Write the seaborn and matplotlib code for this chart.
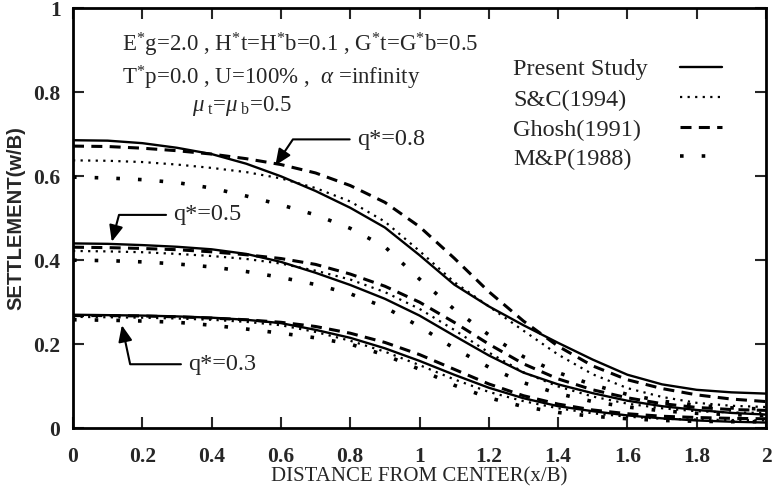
import numpy as np
import pandas as pd
import seaborn as sns
import matplotlib
matplotlib.use("Agg")
import matplotlib.pyplot as plt
from matplotlib.lines import Line2D

# ---------------- data ----------------
x_pts = [0.0, 0.1, 0.2, 0.3, 0.4, 0.5, 0.6, 0.7, 0.8, 0.9, 1.0,
         1.1, 1.2, 1.3, 1.4, 1.5, 1.6, 1.7, 1.8, 1.9, 2.0]

present_08 = [0.686, 0.685, 0.679, 0.668, 0.653, 0.630, 0.600, 0.565, 0.525, 0.478, 0.412,
              0.342, 0.290, 0.245, 0.203, 0.163, 0.127, 0.104, 0.091, 0.085, 0.082]
ghosh_08 = [0.672, 0.671, 0.667, 0.661, 0.653, 0.642, 0.628, 0.608, 0.578, 0.538, 0.480,
            0.405, 0.325, 0.255, 0.195, 0.148, 0.115, 0.094, 0.079, 0.069, 0.063]
sc_08 = [0.638, 0.637, 0.634, 0.628, 0.620, 0.610, 0.595, 0.572, 0.540, 0.492, 0.422,
         0.348, 0.290, 0.232, 0.175, 0.128, 0.095, 0.074, 0.060, 0.053, 0.050]
mp_08 = [0.598, 0.596, 0.592, 0.585, 0.572, 0.553, 0.532, 0.508, 0.476, 0.432, 0.355,
         0.283, 0.222, 0.170, 0.132, 0.103, 0.080, 0.064, 0.054, 0.048, 0.045]

present_05 = [0.440, 0.439, 0.436, 0.432, 0.426, 0.415, 0.396, 0.370, 0.341, 0.308, 0.268,
              0.220, 0.173, 0.132, 0.104, 0.083, 0.065, 0.052, 0.043, 0.036, 0.032]
ghosh_05 = [0.431, 0.430, 0.428, 0.425, 0.420, 0.413, 0.404, 0.390, 0.367, 0.338, 0.300,
            0.252, 0.200, 0.153, 0.117, 0.091, 0.072, 0.058, 0.049, 0.044, 0.042]
sc_05 = [0.422, 0.421, 0.419, 0.415, 0.410, 0.403, 0.392, 0.375, 0.354, 0.324, 0.284,
         0.234, 0.180, 0.133, 0.099, 0.075, 0.058, 0.047, 0.040, 0.037, 0.036]
mp_05 = [0.400, 0.399, 0.396, 0.391, 0.384, 0.373, 0.359, 0.342, 0.320, 0.288, 0.242,
         0.190, 0.145, 0.108, 0.082, 0.063, 0.050, 0.041, 0.035, 0.032, 0.030]

present_03 = [0.270, 0.269, 0.268, 0.266, 0.263, 0.258, 0.250, 0.234, 0.215, 0.190, 0.160,
              0.127, 0.096, 0.071, 0.052, 0.040, 0.030, 0.023, 0.018, 0.015, 0.013]
ghosh_03 = [0.268, 0.268, 0.267, 0.265, 0.262, 0.258, 0.252, 0.242, 0.226, 0.204, 0.175,
            0.140, 0.105, 0.077, 0.057, 0.043, 0.034, 0.028, 0.025, 0.023, 0.022]
sc_03 = [0.265, 0.264, 0.263, 0.261, 0.258, 0.253, 0.245, 0.229, 0.208, 0.182, 0.150,
         0.116, 0.086, 0.064, 0.047, 0.035, 0.027, 0.022, 0.020, 0.019, 0.018]
mp_03 = [0.258, 0.257, 0.255, 0.252, 0.245, 0.236, 0.226, 0.215, 0.200, 0.174, 0.140,
         0.102, 0.072, 0.051, 0.037, 0.028, 0.022, 0.018, 0.016, 0.015, 0.015]

methods = ["Present Study", "S&C(1994)", "Ghosh(1991)", "M&P(1988)"]
load_levels = ["q*=0.8", "q*=0.5", "q*=0.3"]

x_ticks = [0, 0.2, 0.4, 0.6, 0.8, 1.0, 1.2, 1.4, 1.6, 1.8, 2.0]
x_tick_labels = ["0", "0.2", "0.4", "0.6", "0.8", "1", "1.2", "1.4", "1.6", "1.8", "2"]
y_ticks = [0, 0.2, 0.4, 0.6, 0.8, 1.0]
y_tick_labels = ["0", "0.2", "0.4", "0.6", "0.8", "1"]

# annotation anchor points (data coords): (arrow head), (text position)
ann_heads = [(0.584, 0.626), (0.112, 0.444), (0.141, 0.245)]
ann_texts = [(0.82, 0.688), (0.29, 0.508), (0.333, 0.152)]
ann_angles = [56, 75, -78]

# ---------------- long-form table ----------------
series = {
    ("Present Study", "q*=0.8"): present_08, ("Ghosh(1991)", "q*=0.8"): ghosh_08,
    ("S&C(1994)", "q*=0.8"): sc_08, ("M&P(1988)", "q*=0.8"): mp_08,
    ("Present Study", "q*=0.5"): present_05, ("Ghosh(1991)", "q*=0.5"): ghosh_05,
    ("S&C(1994)", "q*=0.5"): sc_05, ("M&P(1988)", "q*=0.5"): mp_05,
    ("Present Study", "q*=0.3"): present_03, ("Ghosh(1991)", "q*=0.3"): ghosh_03,
    ("S&C(1994)", "q*=0.3"): sc_03, ("M&P(1988)", "q*=0.3"): mp_03,
}
rows = []
for (m, q), vals in series.items():
    for xv, yv in zip(x_pts, vals):
        rows.append({"method": m, "load": q, "x": xv, "w": yv})
df = pd.DataFrame(rows)

# ---------------- styling ----------------
sns.set_style("ticks")
plt.rcParams["font.family"] = ["Liberation Serif", "DejaVu Serif"]
plt.rcParams["mathtext.fontset"] = "custom"
plt.rcParams["mathtext.rm"] = "Liberation Serif"
plt.rcParams["mathtext.it"] = "Liberation Serif:italic"
plt.rcParams["mathtext.bf"] = "Liberation Serif:bold"

styles = {
    "Present Study": dict(linestyle="-", lw=1.7),
    "S&C(1994)": dict(linestyle=(0, (1, 2.4)), lw=1.6),
    "Ghosh(1991)": dict(linestyle=(0, (3.6, 2.4)), lw=2.2),
    "M&P(1988)": dict(linestyle=(0, (1, 5.0)), lw=2.6),
}

fig = plt.figure(figsize=(7.72, 4.92), dpi=100)
ax = fig.add_axes([73 / 772, 1 - 428 / 492, (766 - 73) / 772, (428 - 8.5) / 492])

for (m, q), _ in series.items():
    sub = df[(df.method == m) & (df.load == q)]
    sns.lineplot(data=sub, x="x", y="w", ax=ax, color="black",
                 estimator=None, sort=False, **styles[m])

ax.set_xlim(0, 2)
ax.set_ylim(0, 1)
ax.set_xticks(x_ticks)
ax.set_xticklabels(x_tick_labels)
ax.set_yticks(y_ticks)
ax.set_yticklabels(y_tick_labels)
ax.tick_params(direction="in", length=8, width=1.5, top=True, right=True,
               labelsize=15.5)
ax.tick_params(axis="x", pad=14)
ax.tick_params(axis="y", pad=9)
for lab in ax.get_xticklabels() + ax.get_yticklabels():
    lab.set_fontweight("bold")
for s in ax.spines.values():
    s.set_linewidth(2)
    s.set_color("black")

ax.set_xlabel("DISTANCE FROM CENTER(x/B)", fontsize=15, labelpad=0)
ax.set_ylabel("SETTLEMENT(w/B)", fontsize=14.5, labelpad=6, fontweight="bold",
              fontfamily=["Liberation Sans", "DejaVu Sans"])

# parameter block
tfs = 17.5
pfs = 16.5
ax.text((122 - 73) / 693, (428 - 45) / 419.5,
        r"E$^{*}$g=2.0 , H$^{*}$t=H$^{*}$b=0.1 , G$^{*}$t=G$^{*}$b=0.5",
        transform=ax.transAxes, fontsize=pfs, va="center", ha="left")
ax.text((122 - 73) / 693, (428 - 78) / 419.5,
        r"T$^{*}$p=0.0 , U=100% ,  $\alpha$ =infinity",
        transform=ax.transAxes, fontsize=pfs, va="center", ha="left")
ax.text((192 - 73) / 693, (428 - 106) / 419.5,
        r"$\mu_{\mathrm{\ t}}$=$\mu_{\mathrm{\ b}}$=0.5",
        transform=ax.transAxes, fontsize=pfs, va="center", ha="left")

# legend (labels left, samples right)
leg_rows_py = [70, 100, 130, 159]
for m, py in zip(methods, leg_rows_py):
    ax.text((513 - 73) / 693, (428 - py) / 419.5, m, transform=ax.transAxes,
            fontsize=tfs, va="center", ha="left")
    ax.add_line(Line2D([(680 - 73) / 693, (722 - 73) / 693],
                       [(428 - py + 3) / 419.5] * 2, transform=ax.transAxes,
                       color="black", **styles[m]))

# q* annotations
for lab, head, tpos, ang in zip(load_levels, ann_heads, ann_texts, ann_angles):
    ax.annotate(lab, xy=head, xytext=tpos, fontsize=tfs, va="center", ha="left",
                arrowprops=dict(arrowstyle="-|>,head_length=0.7,head_width=0.3",
                                color="black", lw=1.5, mutation_scale=14,
                                shrinkA=3, shrinkB=0,
                                connectionstyle=f"angle,angleA=0,angleB={ang},rad=0"))

fig.savefig("out.png", dpi=100, facecolor="white")
